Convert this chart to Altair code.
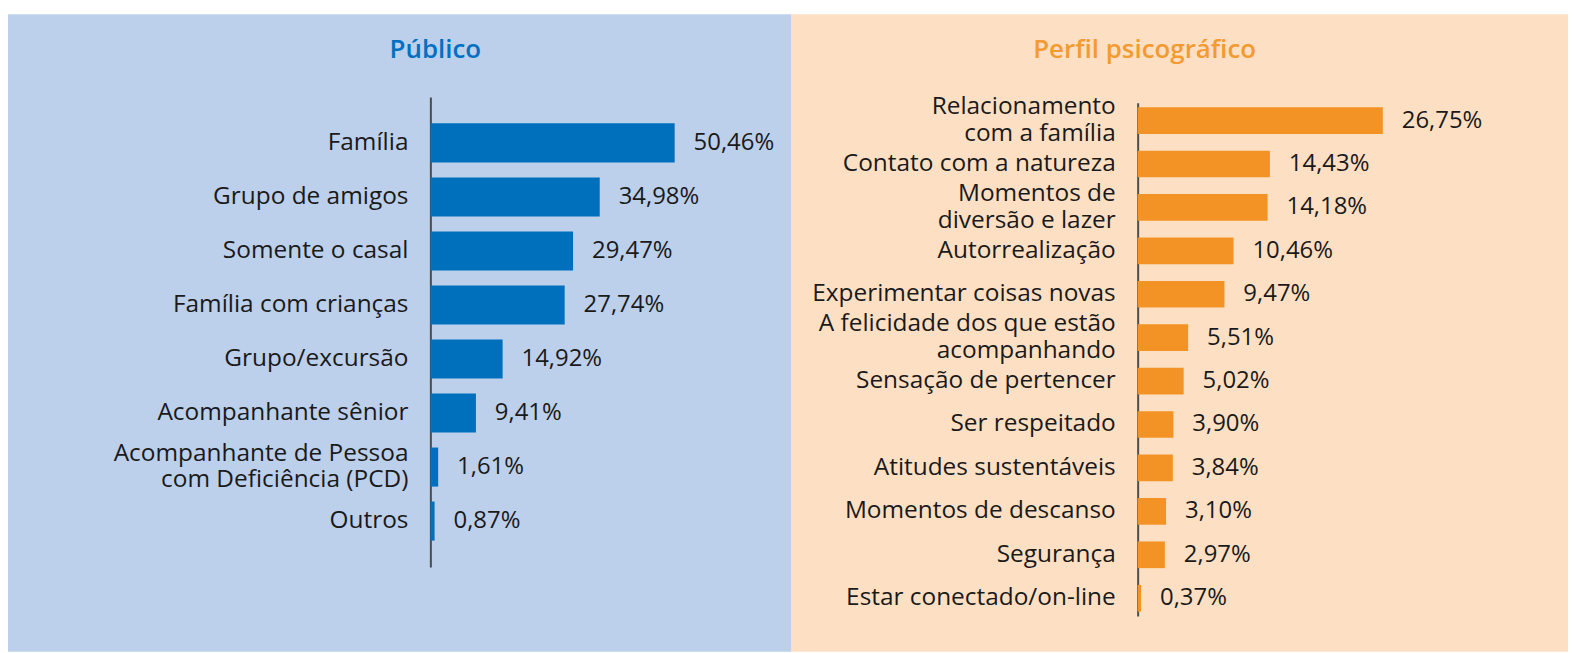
import altair as alt
import pandas as pd

publico_cats = ["Família", "Grupo de amigos", "Somente o casal", "Família com crianças",
                "Grupo/excursão", "Acompanhante sênior",
                "Acompanhante de Pessoa|com Deficiência (PCD)", "Outros"]
publico_vals = [50.46, 34.98, 29.47, 27.74, 14.92, 9.41, 1.61, 0.87]

perfil_cats = ["Relacionamento|com a família", "Contato com a natureza",
               "Momentos de|diversão e lazer", "Autorrealização",
               "Experimentar coisas novas", "A felicidade dos que estão|acompanhando",
               "Sensação de pertencer", "Ser respeitado", "Atitudes sustentáveis",
               "Momentos de descanso", "Segurança", "Estar conectado/on-line"]
perfil_vals = [26.75, 14.43, 14.18, 10.46, 9.47, 5.51, 5.02, 3.90, 3.84, 3.10, 2.97, 0.37]

titles = ["Público", "Perfil psicográfico"]

FONT = "Open Sans"
TXT = "#1a1a1a"
LBL_SIZE = 24.5
VAL_SIZE = 24
LH = 27


def fmt(v):
    return f"{v:.2f}".replace(".", ",") + "%"


def panel(cats, vals, title, width, height, zero_px, px_per, yrange, pad_in, pad_out,
          bar_color, title_color, bg, title_x, lbl_dx, val_dx):
    df = pd.DataFrame({"cat": cats, "val": vals, "lbl": [fmt(v) for v in vals]})
    xmin = -zero_px / px_per
    xmax = (width - zero_px) / px_per
    xs = alt.Scale(domain=[xmin, xmax], nice=False, zero=False)
    ys = alt.Scale(domain=cats, range=yrange, paddingInner=pad_in, paddingOuter=pad_out)
    base = alt.Chart(df)
    bars = base.mark_bar(color=bar_color).encode(
        x=alt.X("val:Q", scale=xs, axis=None),
        x2=alt.datum(0),
        y=alt.Y("cat:N", sort=cats, scale=ys,
                axis=alt.Axis(orient="left", offset=-zero_px, labels=False, ticks=False,
                              title=None, grid=False, domainColor="#4d4d4d",
                              domainWidth=2)),
    )
    single = base.transform_filter("indexof(datum.cat, '|') < 0").mark_text(
        align="right", baseline="middle", dx=lbl_dx, font=FONT,
        fontSize=LBL_SIZE, color=TXT).encode(
        x=alt.datum(0), y=alt.Y("cat:N", sort=cats), text="cat:N")
    multi = base.transform_filter("indexof(datum.cat, '|') >= 0").mark_text(
        align="right", baseline="middle", dx=lbl_dx, dy=-LH / 2, font=FONT,
        fontSize=LBL_SIZE, color=TXT, lineBreak="|", lineHeight=LH).encode(
        x=alt.datum(0), y=alt.Y("cat:N", sort=cats), text="cat:N")
    val_lbls = base.mark_text(align="left", baseline="middle", dx=val_dx, font=FONT,
                              fontSize=VAL_SIZE, color=TXT).encode(
        x="val:Q", y=alt.Y("cat:N", sort=cats), text="lbl:N")
    ttl = alt.Chart(pd.DataFrame({"t": [title]})).mark_text(
        align="center", baseline="middle", font=FONT, fontSize=26, fontWeight=600,
        color=title_color).encode(x=alt.value(title_x), y=alt.value(36), text="t:N")
    return alt.layer(bars, single, multi, val_lbls, ttl).properties(
        width=width, height=height,
        view=alt.ViewBackground(fill=bg, stroke=None))


H = 640
left = panel(publico_cats, publico_vals, titles[0], 786, H, 424, 4.86, [83, 555], 0.277, 0.49,
             "#0070BC", "#0070C0", "#BCD0EC", 429, -22, 19)
right = panel(perfil_cats, perfil_vals, titles[1], 780, H, 348, 9.2, [89, 604], 0.385, 0.1,
              "#F39325", "#F39A30", "#FDE0C4", 355, -22, 19)

chart = alt.hconcat(left, right, spacing=0).properties(
    padding={"left": 0, "top": 5, "right": 0, "bottom": 0}, background="white"
).configure_view(stroke=None).resolve_scale(y="independent", x="independent")

chart.save("out.html", embed_options={"renderer": "svg", "actions": False})
